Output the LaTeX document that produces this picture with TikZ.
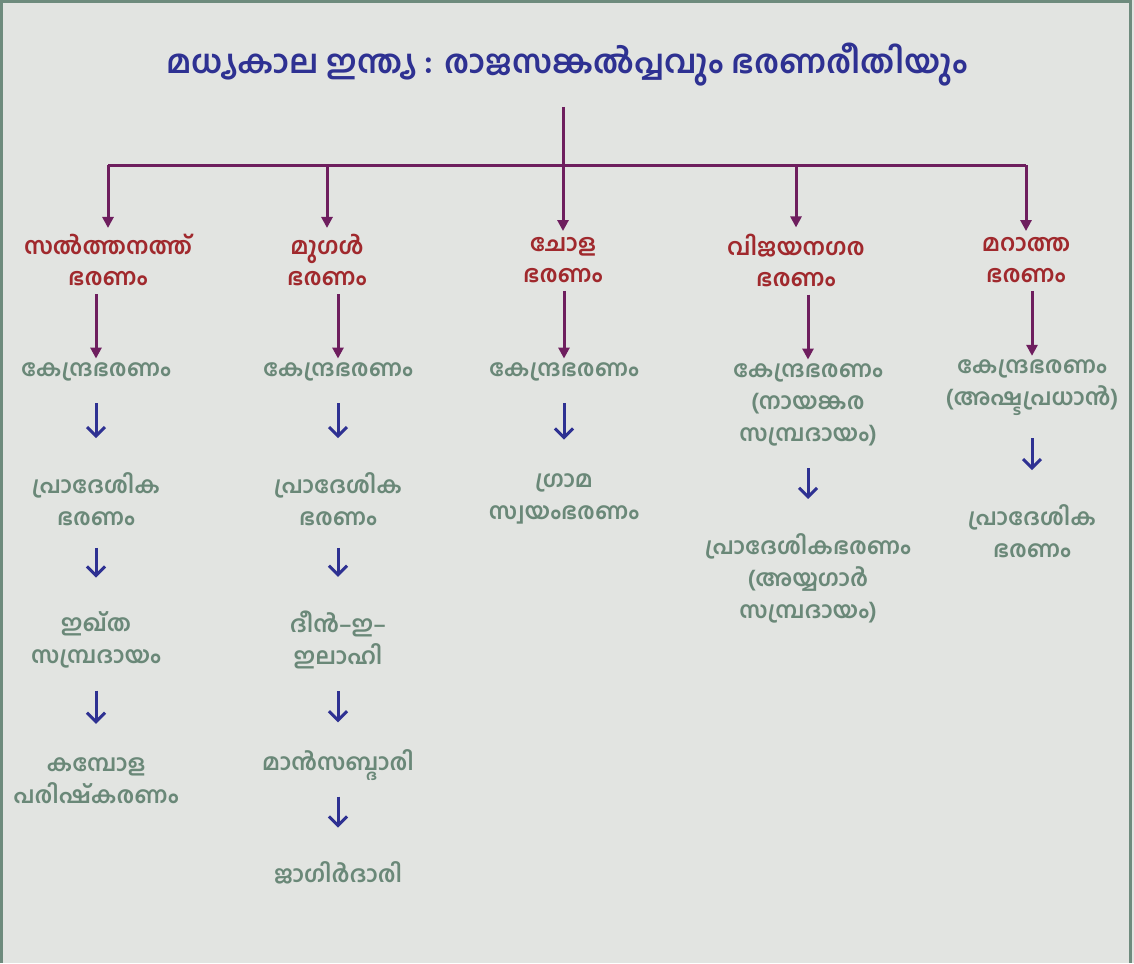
\documentclass[tikz,border=0pt]{standalone}
\usepackage{fontspec}
\newfontfamily\mlfont[Script=Malayalam]{Hind Kochi}
\usetikzlibrary{arrows.meta}
\definecolor{Ink}{HTML}{2E3192}
\definecolor{Brick}{HTML}{A0292D}
\definecolor{Sage}{HTML}{6A8878}
\definecolor{Plum}{HTML}{6E1E5E}
\definecolor{Paper}{HTML}{E2E4E1}
\definecolor{Frame}{HTML}{6E8B7D}

\begin{document}
\begin{tikzpicture}[x=1pt, y=-1pt,
                title/.style={font=\mlfont\bfseries\fontsize{32.5}{36}\selectfont,
                              text=Ink, inner sep=0pt},
                head/.style={font=\mlfont\bfseries\fontsize{23.5}{31}\selectfont,
                             text=Brick, align=center, inner sep=0pt},
                item/.style={font=\mlfont\bfseries\fontsize{23}{32}\selectfont,
                             text=Sage, align=center, inner sep=0pt},
                link/.style={draw=Plum, line width=3pt},
                drop/.style={link, -{Triangle[width=11pt,length=11pt]}},
                flow/.style={draw=Ink, line width=3pt,
                             -{Straight Barb[length=9pt,width=18pt,line width=3pt]},
                             shorten <=22pt, shorten >=34pt}]
                \useasboundingbox (0,0) rectangle (1134,963);
                \fill[Paper] (0,0) rectangle (1134,963);
                \draw[Frame, line width=3pt] (1.5,963) -- (1.5,1.5) -- (1130.5,1.5) -- (1130.5,963);

                \node[title] (top) at (567,65) {മധ്യകാല ഇന്ത്യ : രാജസങ്കൽപ്പവും ഭരണരീതിയും};
                \coordinate (hub) at (563,165);

                \node[head] (h1) at (108,260) {സൽത്തനത്ത്\\ഭരണം};
                \node[head] (h2) at (327,260) {മുഗൾ\\ഭരണം};
                \node[head] (h3) at (563,260) {ചോള\\ഭരണം};
                \node[head] (h4) at (796,260) {വിജയനഗര\\ഭരണം};
                \node[head] (h5) at (1026,260) {മറാത്ത\\ഭരണം};

                \node[item] (k1) at (96,372)   {കേന്ദ്രഭരണം};
                \node[item] (k2) at (338,372)  {കേന്ദ്രഭരണം};
                \node[item] (k3) at (564,372)  {കേന്ദ്രഭരണം};
                \node[item] (k4) at (808,405)  {കേന്ദ്രഭരണം\\(നായങ്കര\\സമ്പ്രദായം)};
                \node[item] (k5) at (1032,388) {കേന്ദ്രഭരണം\\(അഷ്ടപ്രധാൻ)};

                \node[item] (p1) at (96,499)   {പ്രാദേശിക\\ഭരണം};
                \node[item] (p2) at (338,499)  {പ്രാദേശിക\\ഭരണം};
                \node[item] (g3) at (564,499)  {ഗ്രാമ\\സ്വയംഭരണം};
                \node[item] (p4) at (808,578)  {പ്രാദേശികഭരണം\\(അയ്യഗാർ\\സമ്പ്രദായം)};
                \node[item] (p5) at (1032,531) {പ്രാദേശിക\\ഭരണം};

                \node[item] (i1) at (96,640)   {ഇഖ്ത\\സമ്പ്രദായം};
                \node[item] (d2) at (338,640)  {ദീൻ–ഇ–\\ഇലാഹി};
                \node[item] (c1) at (96,781)   {കമ്പോള\\പരിഷ്കരണം};
                \node[item] (m2) at (338,765)  {മാൻസബ്ദാരി};
                \node[item] (j2) at (338,873)  {ജാഗിർദാരി};

                \draw[link, shorten <=20pt] (hub |- top.south) -- (hub);
                \draw[link] (h1 |- hub) -- (h5 |- hub);
                \foreach \h in {h1,h2,h3,h4,h5}
                    \draw[drop, shorten >=6pt] (\h |- hub) -- (\h.north);

                \draw[drop, shorten <=8pt, shorten >=4pt] (h1.south -| k1) -- (k1.north);
                \draw[drop, shorten <=8pt, shorten >=4pt] (h2.south -| k2) -- (k2.north);
                \draw[drop, shorten <=8pt, shorten >=4pt] (h3.south -| k3) -- (k3.north);
                \draw[drop, shorten <=8pt, shorten >=4pt] (h4.south -| k4) -- (k4.north);
                \draw[drop, shorten <=8pt, shorten >=4pt] (h5.south -| k5) -- (k5.north);

                \draw[flow] (k1) -- (p1);
                \draw[flow] (p1) -- (i1);
                \draw[flow] (i1) -- (c1);
                \draw[flow] (k2) -- (p2);
                \draw[flow] (p2) -- (d2);
                \draw[flow, shorten >=27pt] (d2) -- (m2);
                \draw[flow, shorten <=16pt] (m2) -- (j2);
                \draw[flow] (k3) -- (g3);
                \draw[flow] (k4) -- (p4);
                \draw[flow] (k5) -- (p5);
            \end{tikzpicture}
\end{document}
